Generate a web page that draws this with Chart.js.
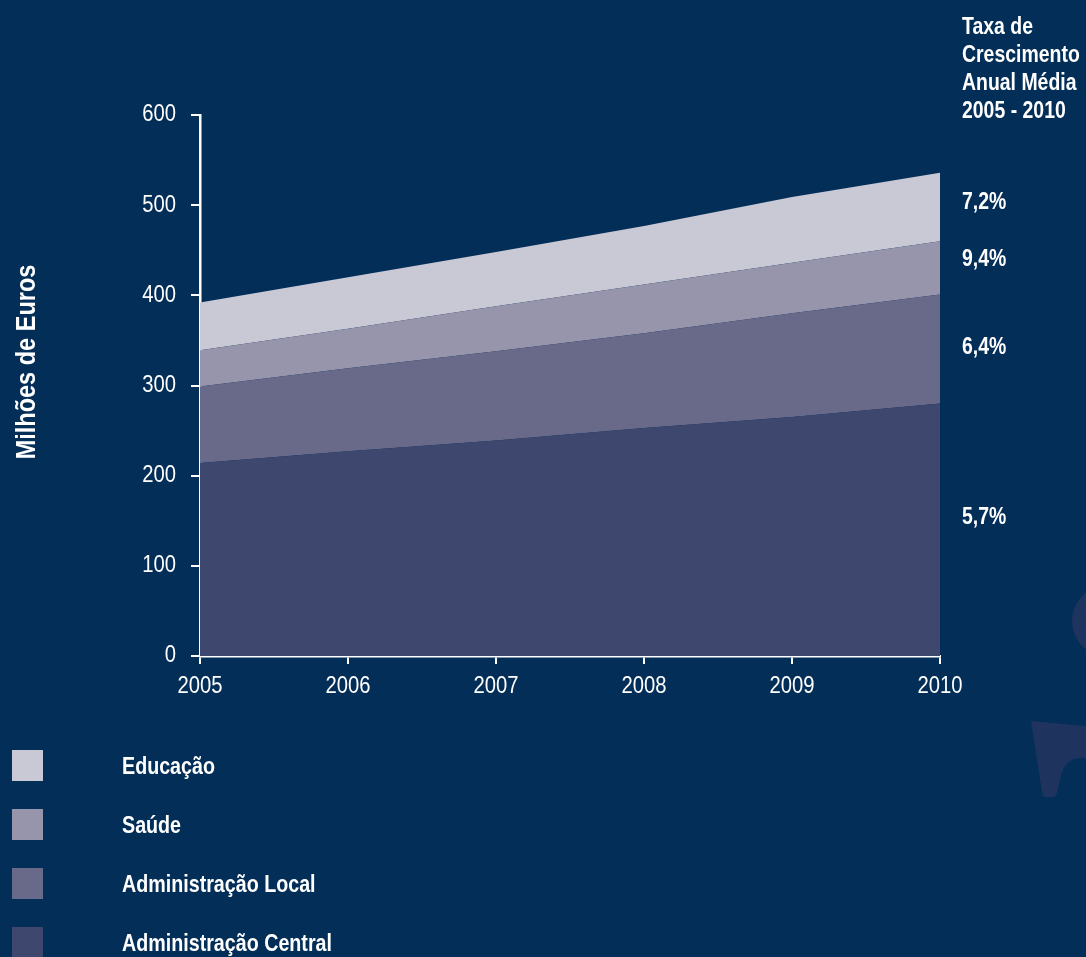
<!DOCTYPE html>
<html lang="pt">
<head>
<meta charset="utf-8">
<title>Despesa por sector 2005-2010</title>
<script src="https://cdn.jsdelivr.net/npm/chart.js@4/dist/chart.umd.min.js"></script>
<style>
  html, body { margin: 0; padding: 0; }
  body {
    width: 1086px; height: 957px; overflow: hidden; position: relative;
    background: rgb(3, 46, 88);
    font-family: "Liberation Sans", Arial, sans-serif;
    color: #fff;
  }
  #wrap { position: absolute; left: 0; top: 0; width: 1086px; height: 957px; }
  #deco { position: absolute; left: 0; top: 0; }
  .side {
    position: absolute; left: 962px; font-weight: bold; font-size: 24px; line-height: 28px;
    white-space: nowrap; transform: scaleX(0.81); transform-origin: 0 0;
  }
  #legend { position: absolute; left: 0; top: 0; }
  .item { position: absolute; left: 12px; height: 31px; width: 400px; }
  .item .box { position: absolute; left: 0; top: 0; width: 31px; height: 31px; }
  .item .txt {
    position: absolute; left: 110px; top: 2px; font-weight: bold; font-size: 24px; line-height: 28px;
    white-space: nowrap; transform: scaleX(0.82); transform-origin: 0 0;
  }
</style>
</head>
<body>
<svg id="deco" width="1086" height="957">
  <circle cx="1108" cy="621" r="36" fill="rgb(30,52,94)"/>
  <path d="M1031,721 L1086,726 L1086,758 Q1068,756 1062,772 L1057,793 Q1056,797 1052,797 L1046,797 Q1043,797 1042,792 Z" fill="rgb(30,52,94)"/>
</svg>
<div id="wrap"><canvas id="chart"></canvas></div>

<div class="side" style="top:12px">Taxa de<br>Crescimento<br>Anual Média<br>2005 - 2010</div>
<div class="side" id="r0" style="top:187px"></div>
<div class="side" id="r1" style="top:244px"></div>
<div class="side" id="r2" style="top:332px"></div>
<div class="side" id="r3" style="top:502px"></div>

<div id="legend"></div>

<script>
// Anos e valores (milhões de euros), do fundo para o topo da pilha
const years = ['2005', '2006', '2007', '2008', '2009', '2010'];
const seriesNames = ['Administração Central', 'Administração Local', 'Saúde', 'Educação'];
const adminCentral = [214, 227, 239, 253, 265, 280];
const adminLocal   = [85, 92, 99, 105, 115, 121];
const saude        = [40, 44, 50, 54, 56, 59];
const educacao     = [53, 57, 60, 65, 73, 76];
const growthRates  = ['5,7%', '6,4%', '9,4%', '7,2%'];
const yTicks = [0, 100, 200, 300, 400, 500, 600];

const colors = ['rgb(62,71,110)', 'rgb(105,106,138)', 'rgb(150,149,171)', 'rgb(201,200,213)'];
const values = [adminCentral, adminLocal, saude, educacao];

const datasets = values.map((v, i) => ({
  label: seriesNames[i],
  data: v,
  backgroundColor: colors[i],
  borderWidth: 0,
  pointRadius: 0,
  tension: 0,
  fill: i === 0 ? 'origin' : '-1'
}));

const FONT = '"Liberation Sans", Arial, sans-serif';

// texto estreito desenhado no canvas (fonte condensada não disponível)
function narrowText(ctx, text, x, y, sx, rot) {
  ctx.save();
  ctx.translate(x, y);
  if (rot) ctx.rotate(rot);
  ctx.scale(sx, 1);
  ctx.fillText(text, 0, 0);
  ctx.restore();
}

const axisLabels = {
  id: 'axisLabels',
  afterDraw(chart) {
    const ctx = chart.ctx;
    const xs = chart.scales.x, ys = chart.scales.y;
    ctx.save();
    ctx.fillStyle = '#fff';
    ctx.font = '23px ' + FONT;
    ctx.textBaseline = 'middle';
    ctx.textAlign = 'right';
    ys.ticks.forEach(t => narrowText(ctx, String(t.value), ys.right - 24, ys.getPixelForValue(t.value), 0.88));
    ctx.textAlign = 'center';
    xs.ticks.forEach((t, i) => narrowText(ctx, xs.getLabelForValue(t.value), xs.getPixelForTick(i), xs.top + 31, 0.88));
    ctx.font = 'bold 28px ' + FONT;
    narrowText(ctx, 'Milhões de Euros', 27, 362, 0.84, -Math.PI / 2);
    ctx.restore();
  }
};

new Chart(document.getElementById('chart'), {
  type: 'line',
  data: { labels: years, datasets: datasets },
  plugins: [axisLabels],
  options: {
    responsive: true,
    maintainAspectRatio: false,
    animation: false,
    layout: { padding: { left: 0, right: 146, top: 115, bottom: 251 } },
    plugins: { legend: { display: false }, tooltip: { enabled: false } },
    scales: {
      x: {
        offset: false,
        grid: { drawOnChartArea: false, color: '#fff', lineWidth: 2, tickLength: 8 },
        border: { color: '#fff', width: 2.5 },
        ticks: { display: false },
        afterFit: s => { s.height = 50; }
      },
      y: {
        stacked: true,
        min: 0, max: 600,
        afterBuildTicks: s => { s.ticks = yTicks.map(v => ({ value: v })); },
        grid: { drawOnChartArea: false, color: '#fff', lineWidth: 2, tickLength: 9 },
        border: { color: '#fff', width: 2.5 },
        ticks: { display: false },
        afterFit: s => { s.width = 200; }
      }
    }
  }
});

// taxas de crescimento à direita
growthRates.forEach((r, i) => { document.getElementById('r' + (3 - i)).textContent = r; });

// legenda, de Educação para Administração Central
const legend = document.getElementById('legend');
for (let i = seriesNames.length - 1, row = 0; i >= 0; i--, row++) {
  const item = document.createElement('div');
  item.className = 'item';
  item.style.top = (750 + row * 59) + 'px';
  item.innerHTML = '<div class="box" style="background:' + colors[i] + '"></div><div class="txt">' + seriesNames[i] + '</div>';
  legend.appendChild(item);
}
</script>
</body>
</html>
